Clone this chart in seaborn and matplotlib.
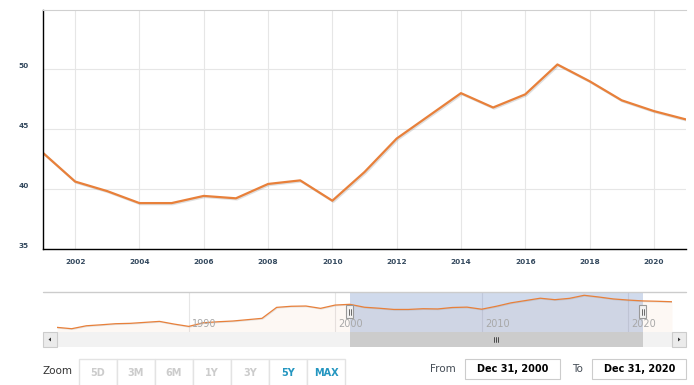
import numpy as np
import pandas as pd
import matplotlib.pyplot as plt
import matplotlib.patheffects as pe
from matplotlib.patches import Rectangle, Polygon
import seaborn as sns

# Data (yearly values, navigator covers the whole series)
years = list(range(1981, 2024))
values = [24.1, 23.0, 25.4, 26.2, 27.1, 27.4, 28.2, 29.0, 26.8, 24.9,
          27.9, 28.7, 29.3, 30.4, 31.5, 40.5, 41.4, 41.6, 39.7, 42.4,
          43.0, 40.6, 39.8, 38.8, 38.8, 39.4, 39.2, 40.4, 40.7, 39.0,
          41.4, 44.2, 46.1, 48.0, 46.8, 47.9, 50.4, 49.0, 47.4, 46.5,
          45.8, 45.5, 45.1]
range_start, range_end = 2001, 2021
main_ticks = list(range(2002, 2021, 2))
y_ticks = [35, 40, 45, 50]
nav_ticks = [1990, 2000, 2010, 2020]
zoom_buttons = ['5D', '3M', '6M', '1Y', '3Y', '5Y', 'MAX']
active_buttons = ['5Y', 'MAX']
from_label = 'Dec 31, 2000'
to_label = 'Dec 31, 2020'

df = pd.DataFrame({'year': years, 'value': values})

ORANGE = '#E8803A'
LABEL = '#34495e'
GRID = '#e6e6e6'

sns.set_style('white')
plt.rcParams['font.family'] = ['DejaVu Sans']

W, H = 694, 385
fig = plt.figure(figsize=(W / 100, H / 100), dpi=100)


def box(x0, y0, x1, y1):
    return [x0 / W, 1 - y1 / H, (x1 - x0) / W, (y1 - y0) / H]


# main chart
ax = fig.add_axes(box(43, 9.5, 686, 248.5))
sns.lineplot(data=df, x='year', y='value', ax=ax, color=ORANGE, lw=1.6)
ax.lines[0].set_path_effects([pe.SimpleLineShadow(offset=(0.8, -0.8), alpha=0.25, shadow_color='gray'),
                              pe.Normal()])
ax.set_xlim(range_start, range_end)
ax.set_ylim(35, 55)
ax.set_xticks(main_ticks)
ax.set_xticklabels([str(t) for t in main_ticks])
ax.set_yticks(y_ticks)
ax.set_yticklabels([str(t) for t in y_ticks])
ax.set_xlabel('')
ax.set_ylabel('')
ax.grid(True, color=GRID, lw=0.8)
ax.tick_params(axis='x', length=0, labelsize=5.3, labelcolor=LABEL, pad=7.5)
ax.tick_params(axis='y', length=0, labelsize=5.3, labelcolor=LABEL, pad=10)
for lbl in ax.get_xticklabels() + ax.get_yticklabels():
    lbl.set_fontweight('bold')
for lbl in ax.get_yticklabels():
    lbl.set_va('bottom')
for side in ['left', 'bottom']:
    ax.spines[side].set_color('black')
    ax.spines[side].set_linewidth(1)
ax.spines['top'].set_color('#d0d0d0')
ax.spines['right'].set_visible(False)

# navigator
nav_lo, nav_hi = 20.3, 53.1
nav = fig.add_axes(box(57, 292, 672, 332))
for t in nav_ticks:
    nav.axvline(t, color=GRID, lw=0.8, zorder=0)
    nav.text(t + 0.23, 0.21, str(t), transform=nav.get_xaxis_transform(),
             ha='left', va='center', fontsize=7, color='#a8a8a8')
nav.fill_between(years, values, nav_lo, color=ORANGE, alpha=0.05, lw=0)
sns.lineplot(data=df, x='year', y='value', ax=nav, color=ORANGE, lw=0.9)
nav.lines[-1].set_path_effects([pe.SimpleLineShadow(offset=(0.5, -0.5), alpha=0.2, shadow_color='gray'),
                                pe.Normal()])
nav.axvspan(range_start, range_end, color=(102 / 255, 133 / 255, 194 / 255), alpha=0.3, lw=0)
nav.set_xlim(1981, 2023)
nav.set_ylim(nav_lo, nav_hi)
nav.axis('off')

# interface chrome (pixel coordinates)
ui = fig.add_axes([0, 0, 1, 1])
ui.set_xlim(0, W)
ui.set_ylim(H, 0)
ui.axis('off')
ui.patch.set_alpha(0)


def nav_px(year):
    return 57 + (year - 1981) * (672 - 57) / (2023 - 1981)


ui.plot([43, 686], [292, 292], color='#cccccc', lw=1)

# scrollbar
ui.add_patch(Rectangle((43, 332), 643, 15, fc='#f2f2f2', ec='none'))
x0, x1 = nav_px(range_start), nav_px(range_end)
ui.add_patch(Rectangle((x0, 332), x1 - x0, 15, fc='#cccccc', ec='none'))
xc = (x0 + x1) / 2
for dx in (-2, 0, 2):
    ui.plot([xc + dx, xc + dx], [336.5, 341.5], color='#333333', lw=0.6)
ui.add_patch(Rectangle((43, 332), 14, 15, fc='#ebebeb', ec='#cccccc', lw=0.8))
ui.add_patch(Polygon([[48.5, 339.5], [51, 337.5], [51, 341.5]], fc='#333333', ec='none'))
ui.add_patch(Rectangle((672, 332), 14, 15, fc='#ebebeb', ec='#cccccc', lw=0.8))
ui.add_patch(Polygon([[680.5, 339.5], [678, 337.5], [678, 341.5]], fc='#333333', ec='none'))

# navigator handles
for xp in (x0, x1):
    ui.add_patch(Rectangle((xp - 3.5, 305), 7, 13, fc='#f2f2f2', ec='#999999', lw=0.8))
    for dx in (-1, 1):
        ui.plot([xp + dx, xp + dx], [308.5, 314.5], color='#333333', lw=0.5)

# zoom buttons
ui.text(43, 370.5, 'Zoom', ha='left', va='center', fontsize=7.5, color='#333333')
for i, lab in enumerate(zoom_buttons):
    bx = 79 + 38 * i
    ui.add_patch(Rectangle((bx, 359), 38, 32, fc='white', ec='#e3e3e3', lw=1))
    col = '#2496c0' if lab in active_buttons else '#cccccc'
    ui.text(bx + 19, 372.5, lab, ha='center', va='center', fontsize=7,
            fontweight='bold', color=col)

# range inputs
ui.text(430, 369, 'From', ha='left', va='center', fontsize=7.5, color='#444c55')
ui.add_patch(Rectangle((465, 359), 95, 20, fc='white', ec='#cccccc', lw=0.8))
ui.text(512.5, 368.5, from_label, ha='center', va='center', fontsize=7, fontweight='bold', color='black')
ui.text(572, 369, 'To', ha='left', va='center', fontsize=7.5, color='#444c55')
ui.add_patch(Rectangle((592.5, 359), 94, 20, fc='white', ec='#cccccc', lw=0.8))
ui.text(639.5, 368.5, to_label, ha='center', va='center', fontsize=7, fontweight='bold', color='black')

plt.savefig('out.png', dpi=100)
